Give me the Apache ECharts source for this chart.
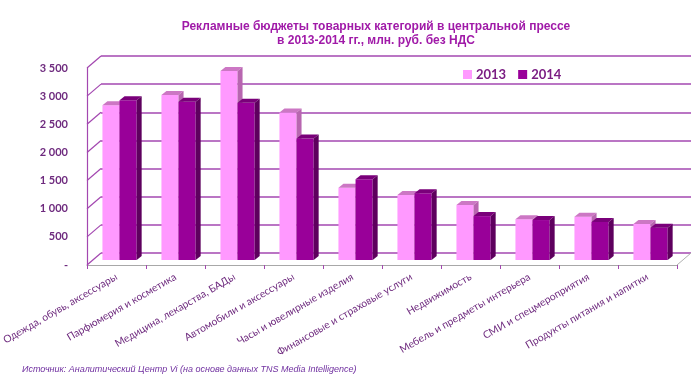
<!DOCTYPE html>
<html><head><meta charset="utf-8">
<script src="https://cdn.jsdelivr.net/npm/echarts@6/dist/echarts.min.js"></script>
<style>html,body{margin:0;padding:0;background:#fff}#c{width:700px;height:388px}</style>
</head><body><div id="c"></div>
<script>
var categories = ["Одежда, обувь, аксессуары","Парфюмерия и косметика","Медицина, лекарства, БАДы","Автомобили и аксессуары","Часы и ювелирные изделия","Финансовые и страховые услуги","Недвижимость","Мебель и предметы интерьера","СМИ и спецмероприятия","Продукты питания и напитки"];
var values2013 = [2750, 2930, 3360, 2620, 1285, 1155, 975, 725, 770, 640];
var values2014 = [2840, 2810, 2795, 2160, 1435, 1185, 780, 710, 675, 575];
var yTicks = [0, 500, 1000, 1500, 2000, 2500, 3000, 3500];

var chart = echarts.init(document.getElementById('c'));
var PURPLE_LINE = '#A347B0';
var LABEL = '#6E2A7E';

function makeRender(idx, front, topc, side) {
  return function (params, api) {
    var cat = api.value(0), val = api.value(1);
    var t = api.coord([cat, val]);
    var b = api.coord([cat, 0]);
    var band = api.size([1, 0])[0];
    var x0 = t[0] + (idx === 0 ? -0.34 : -0.05) * band;
    var w = 0.29 * band;
    var dx = 5, dy = -4;
    var y0 = t[1], y1 = b[1];
    return {
      type: 'group',
      children: [
        {type: 'rect', shape: {x: x0, y: y0, width: w, height: y1 - y0}, style: {fill: front}},
        {type: 'polygon', shape: {points: [[x0, y0], [x0 + dx, y0 + dy], [x0 + w + dx, y0 + dy], [x0 + w, y0]]}, style: {fill: topc}},
        {type: 'polygon', shape: {points: [[x0 + w, y0], [x0 + w + dx, y0 + dy], [x0 + w + dx, y1 + dy], [x0 + w, y1]]}, style: {fill: side}}
      ]
    };
  };
}

function pairs(arr) { return arr.map(function (v, i) { return [i, v]; }); }

var option = {
  animation: false,
  title: {
    text: 'Рекламные бюджеты товарных категорий в центральной прессе\nв 2013-2014 гг., млн. руб. без НДС',
    left: 371, top: 15, textAlign: 'center',
    textStyle: {fontFamily: 'Liberation Sans', fontWeight: 'bold', fontSize: 12, color: '#A01AA8', lineHeight: 14}
  },
  legend: {
    data: ['2013', '2014'], left: 458, top: 63, icon: 'rect', itemWidth: 9, itemHeight: 9, itemGap: 12,
    textStyle: {fontFamily: 'Lato', fontWeight: 'bold', fontSize: 13, color: '#7B1E83', padding: [0, 0, 0, -1]}
  },
  graphic: [{
    type: 'text', left: 22, top: 365,
    style: {text: 'Источник: Аналитический Центр Vi (на основе данных TNS Media Intelligence)', font: 'italic 9px "Liberation Sans"', fill: '#7030A0'}
  }],
  grid: [
    {left: 101, right: 9, top: 56, bottom: 135, outerBoundsMode: 'none', containLabel: false},
    {left: 87, right: 23, top: 68, bottom: 123, outerBoundsMode: 'none', containLabel: false},
    {left: 93, right: 17, top: 63, bottom: 128, outerBoundsMode: 'none', containLabel: false}
  ],
  xAxis: [
    {gridIndex: 0, type: 'category', data: categories, show: false},
    {gridIndex: 1, type: 'category', data: categories,
      axisLine: {lineStyle: {color: '#A8A8A8', width: 1}},
      axisTick: {show: true, length: 4, lineStyle: {color: PURPLE_LINE}},
      axisLabel: {rotate: 30, interval: 0, margin: 11, fontFamily: 'Lato', fontSize: 10.3, color: LABEL}},
    {gridIndex: 2, type: 'category', data: categories, show: false}
  ],
  yAxis: [
    {gridIndex: 0, type: 'value', min: 0, max: 3500, interval: 500,
      axisLine: {show: false}, axisTick: {show: false}, axisLabel: {show: false},
      splitLine: {lineStyle: {color: PURPLE_LINE, width: 1.5}}},
    {gridIndex: 1, type: 'value', min: 0, max: 3500, interval: 500,
      axisLine: {show: true, lineStyle: {color: PURPLE_LINE, width: 1.2}}, axisTick: {show: false},
      splitLine: {show: false},
      axisLabel: {margin: 19, fontFamily: 'Lato', fontWeight: 'bold', fontSize: 11, color: LABEL,
        formatter: function (v) { return v === 0 ? '-' : String(v).replace(/\B(?=(\d{3})+(?!\d))/g, ' '); }}},
    {gridIndex: 2, type: 'value', min: 0, max: 3500, show: false, splitLine: {show: false}}
  ],
  series: [
    {
      type: 'custom', name: 'diag', xAxisIndex: 1, yAxisIndex: 1, silent: true,
      data: yTicks.map(function (v) { return [0, v]; }),
      renderItem: function (params, api) {
        var p = api.coord([api.value(0), api.value(1)]);
        var band = api.size([1, 0])[0];
        var x = p[0] - band / 2;
        return {type: 'line', shape: {x1: x, y1: p[1], x2: x + 14, y2: p[1] - 12}, style: {stroke: PURPLE_LINE, lineWidth: 1.2}};
      }
    },
    {
      type: 'custom', name: 'floor', xAxisIndex: 1, yAxisIndex: 1, silent: true,
      data: [[categories.length - 1, 0]],
      renderItem: function (params, api) {
        var p = api.coord([api.value(0), api.value(1)]);
        var band = api.size([1, 0])[0];
        var x = p[0] + band / 2;
        return {type: 'line', shape: {x1: x, y1: p[1], x2: x + 14, y2: p[1] - 12}, style: {stroke: '#B0B0B0', lineWidth: 1}};
      }
    },
    {
      type: 'custom', name: '2013', xAxisIndex: 2, yAxisIndex: 2,
      itemStyle: {color: '#FF99FF'},
      data: pairs(values2013),
      renderItem: makeRender(0, '#FF99FF', '#CC77C4', '#B866B0')
    },
    {
      type: 'custom', name: '2014', xAxisIndex: 2, yAxisIndex: 2,
      itemStyle: {color: '#990099'},
      data: pairs(values2014),
      renderItem: makeRender(1, '#990099', '#7A007A', '#5E005E')
    }
  ]
};
chart.setOption(option);
</script>
</body></html>
